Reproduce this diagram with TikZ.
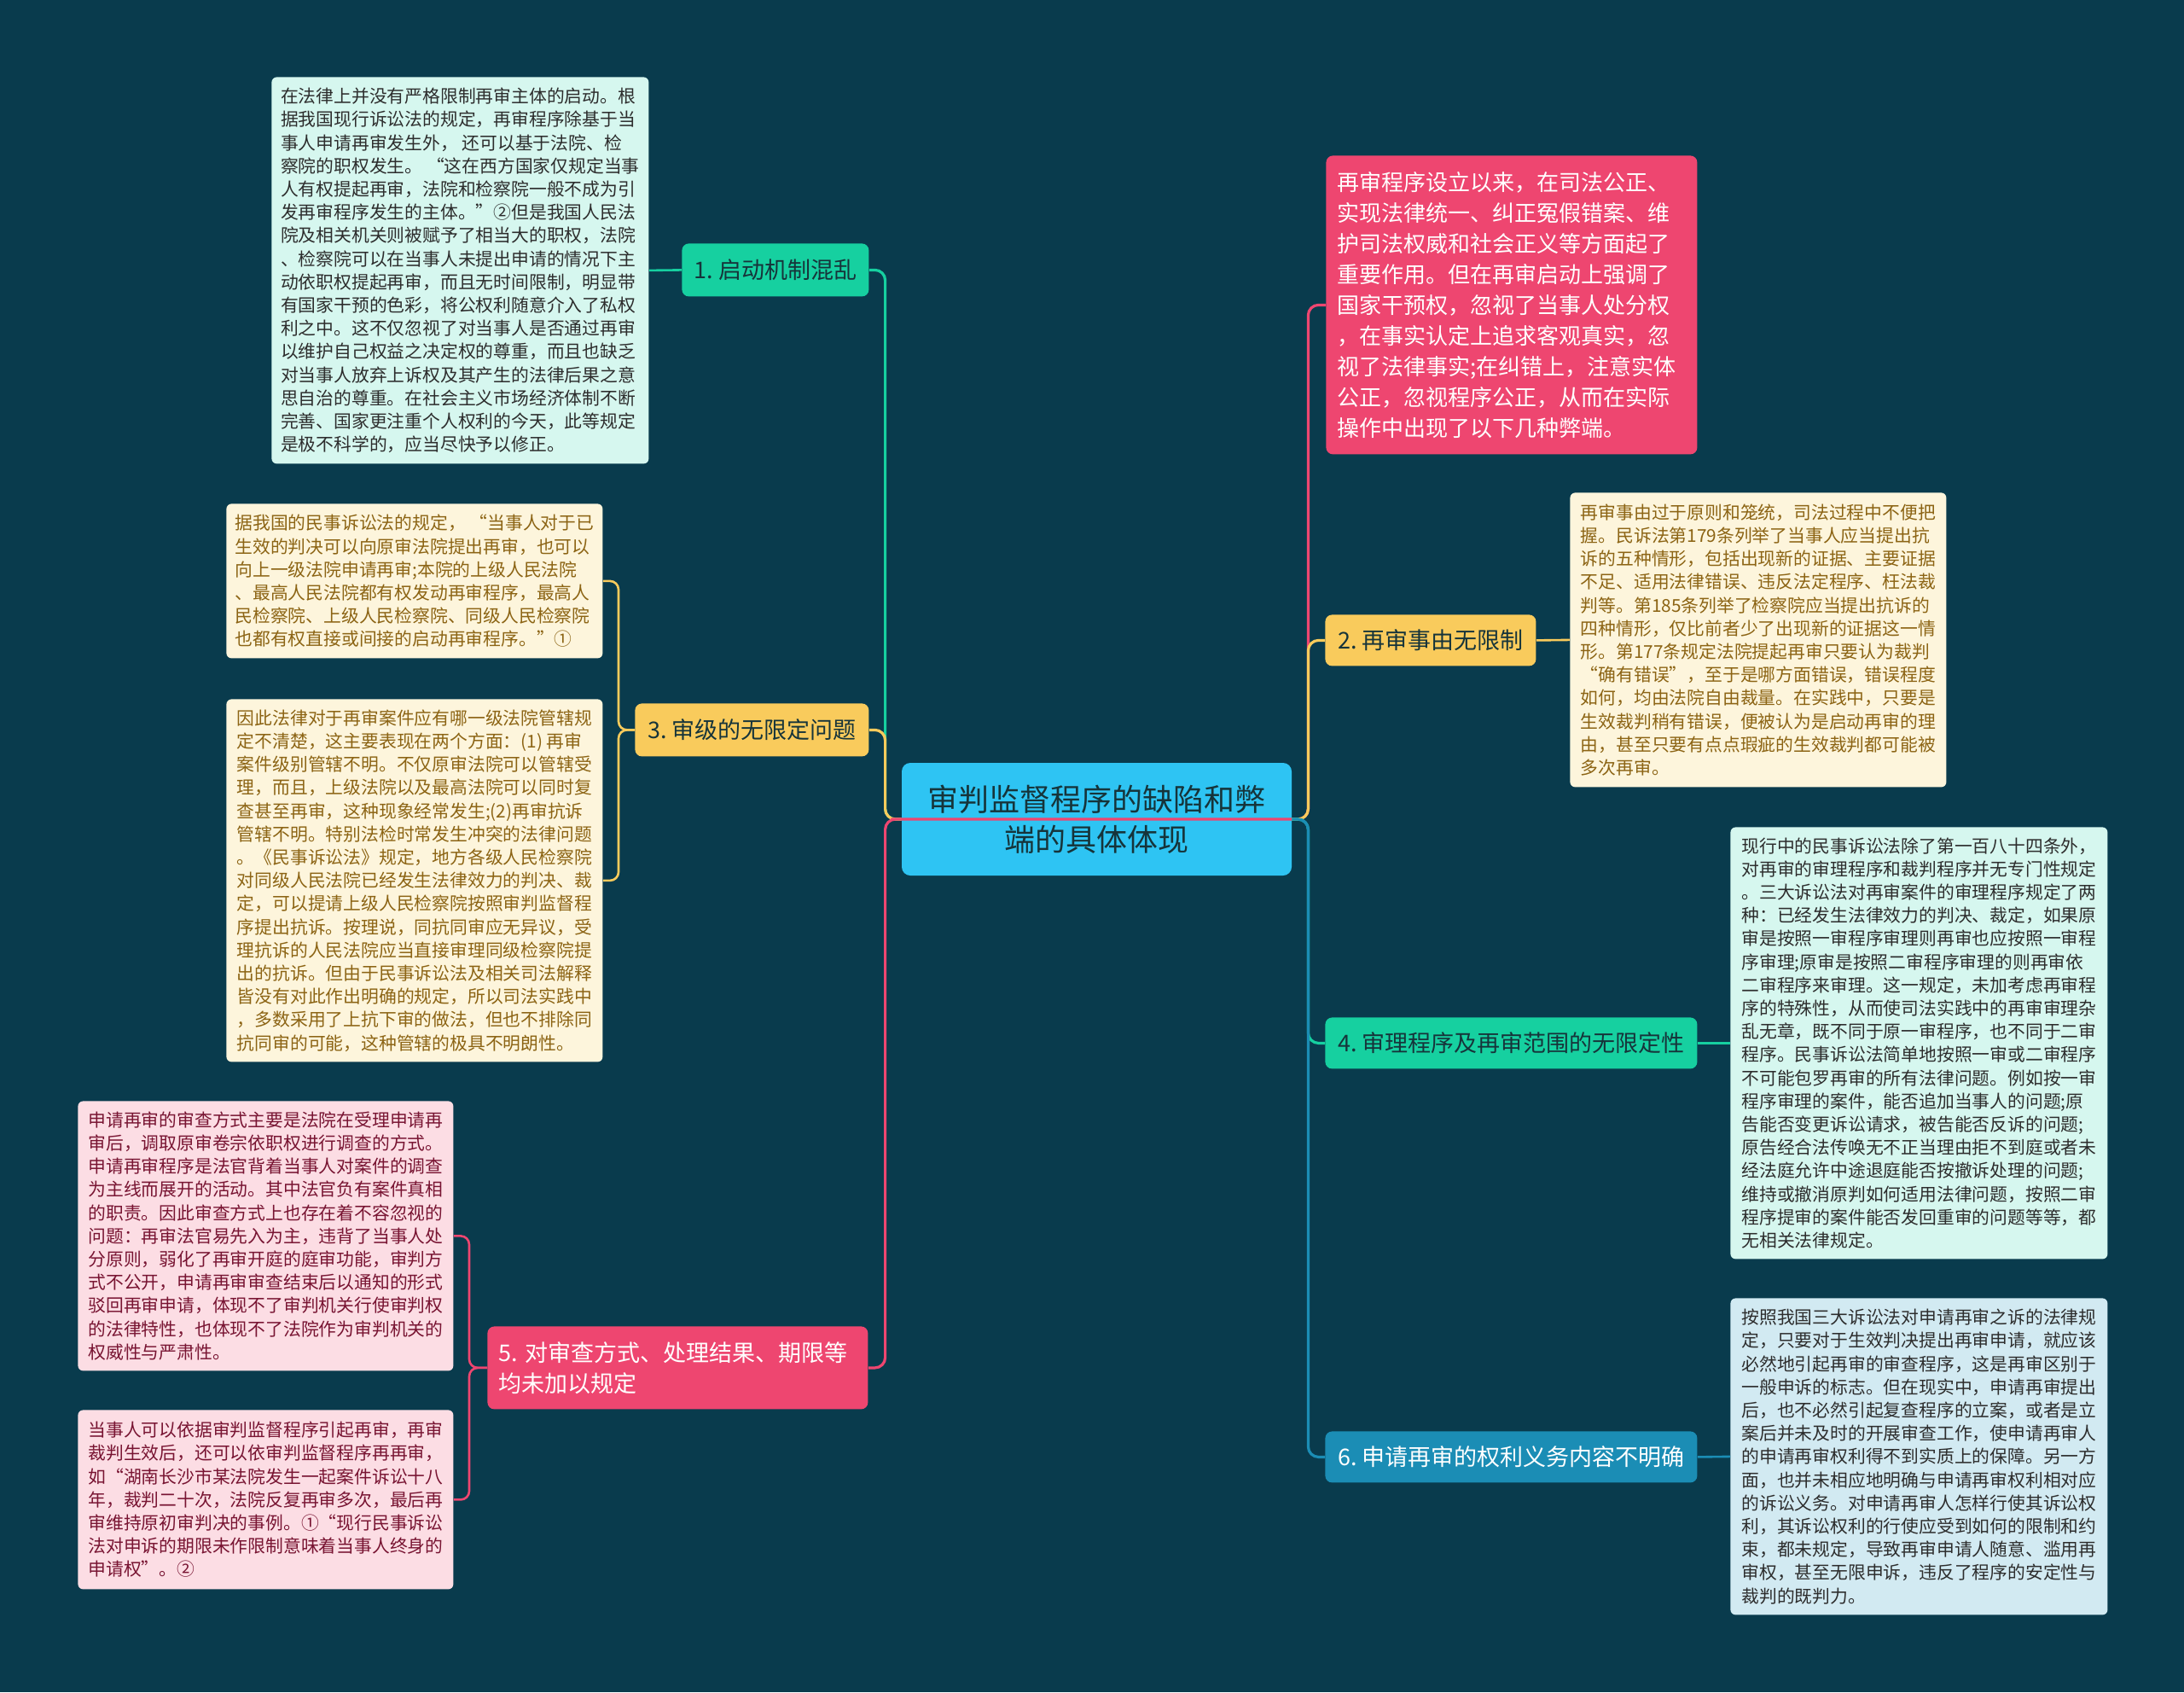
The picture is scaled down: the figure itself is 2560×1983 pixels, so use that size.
\documentclass[tikz,border=0pt]{standalone}
\usepackage{fontspec}
\newfontfamily\cjk{Noto Sans CJK SC}
\definecolor{bg}{RGB}{9,59,77}
\definecolor{ccyan}{RGB}{46,196,243}
\definecolor{cteal}{RGB}{22,208,160}
\definecolor{cyellow}{RGB}{249,203,92}
\definecolor{cred}{RGB}{238,70,112}
\definecolor{cblue}{RGB}{27,141,181}
\definecolor{mint}{RGB}{214,247,239}
\definecolor{cream}{RGB}{253,245,220}
\definecolor{pinkbg}{RGB}{252,221,228}
\definecolor{lblue}{RGB}{210,234,242}
\definecolor{txtdark}{RGB}{45,45,45}
\definecolor{txtbrown}{RGB}{140,100,20}
\definecolor{txtred}{RGB}{120,20,50}
\definecolor{brtxt}{RGB}{22,52,58}
\begin{document}
\begin{tikzpicture}[x=0.5pt,y=-0.5pt,
  conn/.style={line width=1.6pt, rounded corners=6pt},
  sub/.style={line width=1.3pt, rounded corners=5pt},
  blk/.style={rounded corners=3pt, anchor=north west, inner sep=0pt, align=left, font={\cjk\fontsize{10.4}{13.6}\selectfont}},
  br/.style={rounded corners=4pt, anchor=north west, inner sep=0pt, align=center, font={\cjk\fontsize{13.5}{18}\selectfont}}]
\fill[bg] (0,0) rectangle (2560,1983);
\useasboundingbox (0,0) rectangle (2560,1983);

% center
\node[rounded corners=5pt, fill=ccyan, text=brtxt, minimum width=228.5pt, minimum height=66pt, inner sep=0pt, align=center, font={\cjk\fontsize{18}{23.5}\selectfont}] (c) at (1285.5,960) {审判监督程序的缺陷和弊\\端的具体体现};

% branch nodes
\node[br, fill=cteal, text=brtxt, minimum width=109.5pt, minimum height=31pt] (n1) at (799,285) {1.~启动机制混乱};
\node[br, fill=cyellow, text=brtxt, minimum width=137pt, minimum height=31pt] (n3) at (744,824) {3.~审级的无限定问题};
\node[br, fill=cred, text=white, minimum height=48.5pt, text width=210pt, inner xsep=6.5pt, align=left] (n5) at (571,1554) {5.~对审查方式、处理结果、期限等\\均未加以规定};
\node[br, fill=cyellow, text=brtxt, minimum width=123.5pt, minimum height=30pt] (n2) at (1553,720) {2.~再审事由无限制};
\node[br, fill=cteal, text=brtxt, minimum width=218pt, minimum height=30pt] (n4) at (1553,1192) {4.~审理程序及再审范围的无限定性};
\node[br, fill=cblue, text=white, minimum width=218pt, minimum height=30pt] (n6) at (1553,1677) {6.~申请再审的权利义务内容不明确};

% red block directly under center
\node[rounded corners=4pt, anchor=north west, fill=cred, text=white, text width=204.5pt, inner xsep=6.5pt, inner ysep=0pt, minimum height=175pt, align=left, font={\cjk\fontsize{13}{18}\selectfont}] (r) at (1554,182) {再审程序设立以来，在司法公正、\\实现法律统一、纠正冤假错案、维\\护司法权威和社会正义等方面起了\\重要作用。但在再审启动上强调了\\国家干预权，忽视了当事人处分权\\，在事实认定上追求客观真实，忽\\视了法律事实;在纠错上，注意实体\\公正，忽视程序公正，从而在实际\\操作中出现了以下几种弊端。};

% text blocks
\node[blk, fill=mint, text=txtdark, minimum width=221pt, minimum height=226.5pt] (b1) at (318,90) {在法律上并没有严格限制再审主体的启动。根\\据我国现行诉讼法的规定，再审程序除基于当\\事人申请再审发生外，~还可以基于法院、检\\察院的职权发生。~“这在西方国家仅规定当事\\人有权提起再审，法院和检察院一般不成为引\\发再审程序发生的主体。”②但是我国人民法\\院及相关机关则被赋予了相当大的职权，法院\\、检察院可以在当事人未提出申请的情况下主\\动依职权提起再审，而且无时间限制，明显带\\有国家干预的色彩，将公权利随意介入了私权\\利之中。这不仅忽视了对当事人是否通过再审\\以维护自己权益之决定权的尊重，而且也缺乏\\对当事人放弃上诉权及其产生的法律后果之意\\思自治的尊重。在社会主义市场经济体制不断\\完善、国家更注重个人权利的今天，此等规定\\是极不科学的，应当尽快予以修正。};

\node[blk, fill=cream, text=txtbrown, minimum width=220.5pt, minimum height=90.5pt] (b3a) at (265,590) {据我国的民事诉讼法的规定，~“当事人对于已\\生效的判决可以向原审法院提出再审，也可以\\向上一级法院申请再审;本院的上级人民法院\\、最高人民法院都有权发动再审程序，最高人\\民检察院、上级人民检察院、同级人民检察院\\也都有权直接或间接的启动再审程序。”①};

\node[blk, fill=cream, text=txtbrown, minimum width=220.5pt, minimum height=212.5pt] (b3b) at (265,819) {因此法律对于再审案件应有哪一级法院管辖规\\定不清楚，这主要表现在两个方面：(1)~再审\\案件级别管辖不明。不仅原审法院可以管辖受\\理，而且，上级法院以及最高法院可以同时复\\查甚至再审，这种现象经常发生;(2)再审抗诉\\管辖不明。特别法检时常发生冲突的法律问题\\。《民事诉讼法》规定，地方各级人民检察院\\对同级人民法院已经发生法律效力的判决、裁\\定，可以提请上级人民检察院按照审判监督程\\序提出抗诉。按理说，同抗同审应无异议，受\\理抗诉的人民法院应当直接审理同级检察院提\\出的抗诉。但由于民事诉讼法及相关司法解释\\皆没有对此作出明确的规定，所以司法实践中\\，多数采用了上抗下审的做法，但也不排除同\\抗同审的可能，这种管辖的极具不明朗性。};

\node[blk, fill=pinkbg, text=txtred, minimum width=220pt, minimum height=158pt] (b5a) at (91,1290) {申请再审的审查方式主要是法院在受理申请再\\审后，调取原审卷宗依职权进行调查的方式。\\申请再审程序是法官背着当事人对案件的调查\\为主线而展开的活动。其中法官负有案件真相\\的职责。因此审查方式上也存在着不容忽视的\\问题：再审法官易先入为主，违背了当事人处\\分原则，弱化了再审开庭的庭审功能，审判方\\式不公开，申请再审审查结束后以通知的形式\\驳回再审申请，体现不了审判机关行使审判权\\的法律特性，也体现不了法院作为审判机关的\\权威性与严肃性。};

\node[blk, fill=pinkbg, text=txtred, minimum width=220pt, minimum height=105pt] (b5b) at (91,1652) {当事人可以依据审判监督程序引起再审，再审\\裁判生效后，还可以依审判监督程序再再审，\\如“湖南长沙市某法院发生一起案件诉讼十八\\年，裁判二十次，法院反复再审多次，最后再\\审维持原初审判决的事例。①“现行民事诉讼\\法对申诉的期限未作限制意味着当事人终身的\\申请权”。②};

\node[blk, fill=cream, text=txtbrown, minimum width=220.5pt, minimum height=172.5pt] (b2) at (1840,577) {再审事由过于原则和笼统，司法过程中不便把\\握。民诉法第179条列举了当事人应当提出抗\\诉的五种情形，包括出现新的证据、主要证据\\不足、适用法律错误、违反法定程序、枉法裁\\判等。第185条列举了检察院应当提出抗诉的\\四种情形，仅比前者少了出现新的证据这一情\\形。第177条规定法院提起再审只要认为裁判\\“确有错误”，至于是哪方面错误，错误程度\\如何，均由法院自由裁量。在实践中，只要是\\生效裁判稍有错误，便被认为是启动再审的理\\由，甚至只要有点点瑕疵的生效裁判都可能被\\多次再审。};

\node[blk, fill=mint, text=txtdark, minimum width=221pt, minimum height=253pt] (b4) at (2028,969) {现行中的民事诉讼法除了第一百八十四条外，\\对再审的审理程序和裁判程序并无专门性规定\\。三大诉讼法对再审案件的审理程序规定了两\\种：已经发生法律效力的判决、裁定，如果原\\审是按照一审程序审理则再审也应按照一审程\\序审理;原审是按照二审程序审理的则再审依\\二审程序来审理。这一规定，未加考虑再审程\\序的特殊性，从而使司法实践中的再审审理杂\\乱无章，既不同于原一审程序，也不同于二审\\程序。民事诉讼法简单地按照一审或二审程序\\不可能包罗再审的所有法律问题。例如按一审\\程序审理的案件，能否追加当事人的问题;原\\告能否变更诉讼请求，被告能否反诉的问题;\\原告经合法传唤无不正当理由拒不到庭或者未\\经法庭允许中途退庭能否按撤诉处理的问题;\\维持或撤消原判如何适用法律问题，按照二审\\程序提审的案件能否发回重审的问题等等，都\\无相关法律规定。};

\node[blk, fill=lblue, text=txtdark, minimum width=221pt, minimum height=185.5pt] (b6) at (2028,1521) {按照我国三大诉讼法对申请再审之诉的法律规\\定，只要对于生效判决提出再审申请，就应该\\必然地引起再审的审查程序，这是再审区别于\\一般申诉的标志。但在现实中，申请再审提出\\后，也不必然引起复查程序的立案，或者是立\\案后并未及时的开展审查工作，使申请再审人\\的申请再审权利得不到实质上的保障。另一方\\面，也并未相应地明确与申请再审权利相对应\\的诉讼义务。对申请再审人怎样行使其诉讼权\\利，其诉讼权利的行使应受到如何的限制和约\\束，都未规定，导致再审申请人随意、滥用再\\审权，甚至无限申诉，违反了程序的安定性与\\裁判的既判力。};

% main connectors, left
\draw[conn, cteal] (c.west) -- ++(-19,0) |- (n1.east);
\draw[conn, cyellow] (c.west) -- ++(-19,0) |- (n3.east);
\draw[conn, cred] (c.east) -- (c.west) -- ++(-19,0) |- (n5.east);
% main connectors, right
\draw[conn, cred] (c.east) -- ++(19,0) |- (r.west);
\draw[conn, cyellow] (c.east) -- ++(19,0) |- (n2.west);
\draw[conn, cteal] (c.east) -- ++(19,0) |- (n4.west);
\draw[conn, cblue] (c.east) -- ++(19,0) |- (n6.west);

% sub connectors
\draw[sub, cteal] (n1.west) -- (b1.east);
\draw[sub, cyellow] (n3.west) -- ++(-19,0) |- (b3a.east);
\draw[sub, cyellow] (n3.west) -- ++(-19,0) |- (b3b.east);
\draw[sub, cred] (n5.west) -- ++(-21,0) |- (b5a.east);
\draw[sub, cred] (n5.west) -- ++(-21,0) |- (b5b.east);
\draw[sub, cyellow] (n2.east) -- (b2.west);
\draw[sub, cteal] (n4.east) -- (b4.west);
\draw[sub, cblue] (n6.east) -- (b6.west);
\end{tikzpicture}
\end{document}
